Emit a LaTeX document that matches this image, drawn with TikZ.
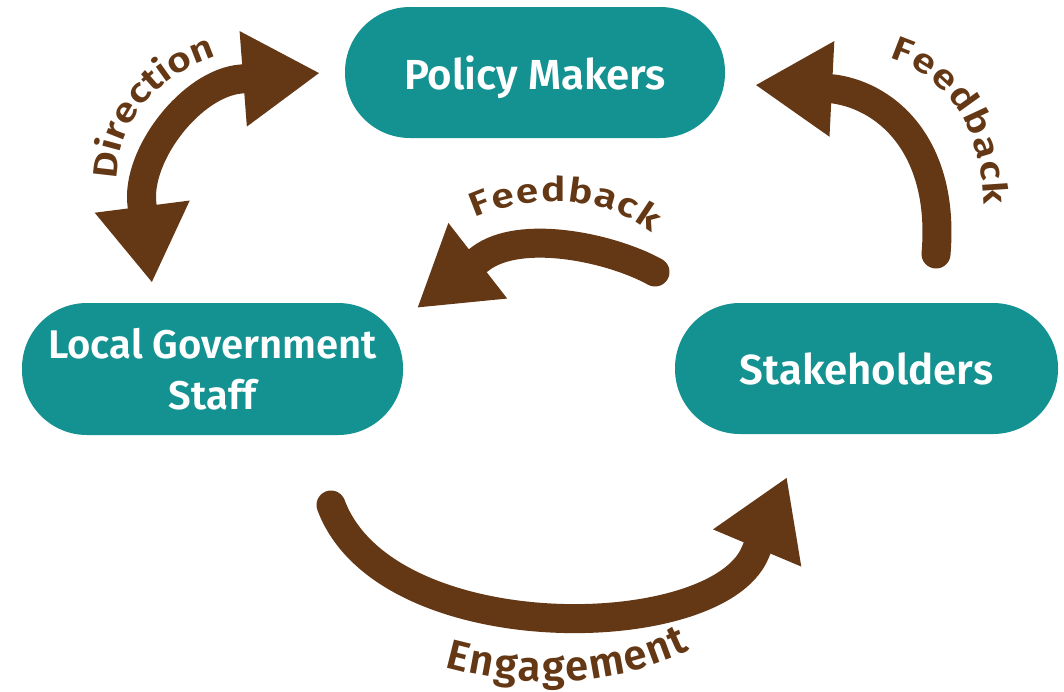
\documentclass[tikz,border=0pt]{standalone}
\usepackage{fontspec}
\setmainfont{Fira Sans}
\newfontfamily\fsb{Fira Sans SemiBold}
\newfontfamily\fsbwide{Fira Sans SemiBold}[FakeStretch=1.2]
\usetikzlibrary{arrows.meta,decorations.text}
\definecolor{tealbox}{RGB}{20,146,145}
\definecolor{brn}{RGB}{100,56,21}
\newcommand\lblfont[1]{\fsb\fontsize{#1}{#1}\selectfont}
\newcommand\lblwide[1]{\fsbwide\fontsize{#1}{#1}\selectfont}
\begin{document}
\begin{tikzpicture}[x=1pt,y=-1pt,
  box/.style={fill=tealbox, rounded corners=65pt, minimum width=380pt,
    minimum height=131pt, text=white, font=\fsb\fontsize{42}{51}\selectfont,
    align=center, inner sep=0pt, text depth=0pt},
  flow/.style={draw=brn, line width=29pt, -{Triangle[length=77pt,width=90pt]}},
  both/.style={{Triangle[length=77pt,width=90pt]}-{Triangle[length=77pt,width=90pt]}},
  tail/.style={line cap=round},
  curvedlabel/.style={decorate, decoration={text along path, text={#1},
    text align={fit to path}, text color=brn}}]
\useasboundingbox (0,0) rectangle (1064,691);
\fill[white] (0,0) rectangle (1064,691);

% boxes
\node[box] (pm) at (535,72.5) {Policy Makers};
\node[box, minimum width=381pt, minimum height=132pt,
  font=\fsb\fontsize{40}{51}\selectfont] (lg) at (212.5,369) {Local Government\\Staff};
\node[box, minimum width=383pt] (sh) at (866.5,368.5) {Stakeholders};

% arrow end points
\coordinate (dirA) at (152,283);
\coordinate (dirB) at (320,73);
\coordinate (fbT) at (655,272);
\coordinate (fbH) at (417,308);
\coordinate (rfT) at (936,254);
\coordinate (rfH) at (755,85);
\coordinate (enT) at (331,505);
\coordinate (enH) at (787,477);

% arrows
\draw[flow, both] (dirA) -- (142,205) .. controls (135.5,155.5) and (191.5,83) .. (241,79) -- (dirB);
\draw[flow, tail] (fbT) .. controls (612,248) and (520,228) .. (480,259) -- (fbH);
\draw[flow, tail] (rfT) .. controls (945,150) and (890,97) .. (834,89) -- (rfH);
\draw[flow, tail] (enT) .. controls (385,650) and (716,645) .. (755,553) -- (enH);

% labels
\path[curvedlabel={|\lblwide{34}|Direction}] (117,180) .. controls (118,125) and (150,80) .. (212,58);
\path[curvedlabel={|\lblwide{34}|Feedback}] (475,218) .. controls (525,195) and (600,192) .. (652,233);
\path[curvedlabel={|\lblwide{34}|Feedback}] (889,58) .. controls (945,75) and (982,125) .. (984,205);
\path[curvedlabel={|\lblfont{42}|Engagement}] (445,667) .. controls (520,688) and (610,689) .. (690,650);
\end{tikzpicture}
\end{document}
